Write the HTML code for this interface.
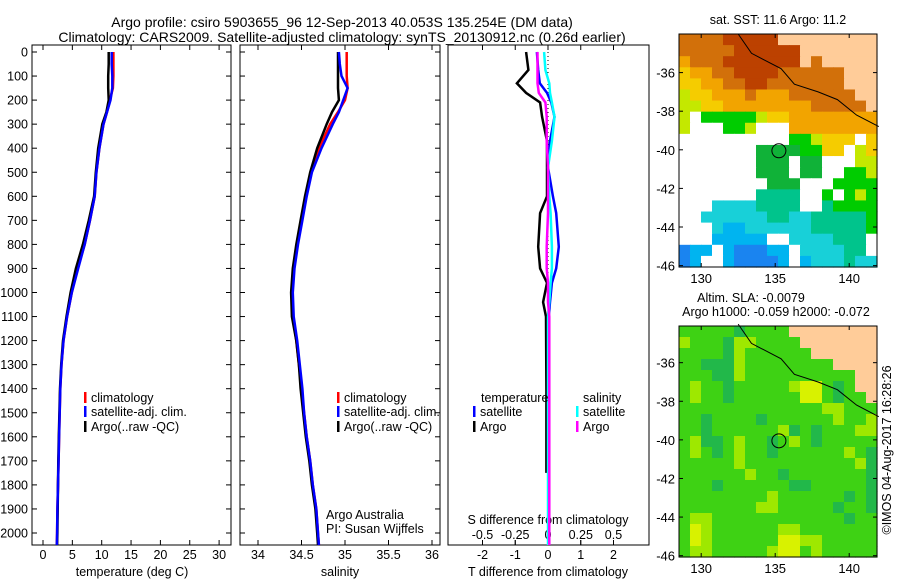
<!DOCTYPE html>
<html><head><meta charset="utf-8"><style>
html,body{margin:0;padding:0;background:#fff;}
svg{display:block;font-family:"Liberation Sans",sans-serif;}
text{font-size:12.5px;fill:#000;}
</style></head><body>
<svg id="fig" width="900" height="580" viewBox="0 0 900 580">
<g id="titles">
<text x="342" y="27" text-anchor="middle" style="font-size:14px">Argo profile: csiro 5903655_96 12-Sep-2013 40.053S 135.254E (DM data)</text>
<text x="342" y="42" text-anchor="middle" style="font-size:14px">Climatology: CARS2009. Satellite-adjusted climatology: synTS_20130912.nc (0.26d earlier)</text>
</g>
<g id="layer"></g>
</svg>
<script>
// ---- profile data ----
const depths = [0,50,100,150,200,250,300,400,500,600,700,800,900,1000,1100,1200,1300,1400,1500,1600,1700,1800,1900,2000,2050];
const tempArgo = [11.2,11.2,11.1,11.1,11.2,10.8,10.1,9.4,9.0,8.7,7.8,6.8,5.6,4.7,4.0,3.4,3.1,2.9,2.8,2.7,2.6,2.55,2.5,2.45,2.4];
const tempClim = [12.0,12.0,12.0,11.9,11.4,10.9,10.3,9.6,9.1,8.8,8.0,7.1,5.9,4.9,4.1,3.5,3.15,2.95,2.85,2.75,2.65,2.55,2.45,2.4,2.35];
const tempSat  = [11.7,11.7,11.8,11.8,11.5,10.9,10.3,9.6,9.1,8.8,8.0,7.1,6.0,4.9,4.1,3.5,3.15,2.95,2.85,2.75,2.65,2.55,2.45,2.4,2.35];
const salArgo = [34.92,34.92,34.92,34.92,34.93,34.85,34.79,34.68,34.60,34.54,34.49,34.44,34.40,34.38,34.39,34.44,34.47,34.49,34.52,34.55,34.59,34.62,34.66,34.68,34.69];
const salClim = [35.02,35.02,35.02,35.03,35.00,34.92,34.83,34.70,34.61,34.55,34.50,34.45,34.41,34.39,34.40,34.44,34.47,34.50,34.53,34.56,34.60,34.63,34.67,34.69,34.70];
const salSat  = [34.93,34.94,34.96,35.03,34.98,34.93,34.86,34.73,34.62,34.56,34.51,34.46,34.42,34.40,34.41,34.45,34.48,34.51,34.53,34.56,34.60,34.63,34.67,34.69,34.70];
// ---- difference data ----
const diffDepths = [0,75,130,170,210,270,370,480,600,670,810,900,960,1040,1100,1400,1750,2050];
const dTArgo = [-0.67,-0.6,-0.95,-0.67,-0.24,-0.18,-0.03,-0.03,-0.03,-0.24,-0.3,-0.24,-0.03,-0.15,-0.06,-0.05,-0.05,null];
const dTSat  = [-0.34,-0.3,-0.25,-0.03,0.1,0.2,0.06,0.0,0.15,0.25,0.33,0.25,0.12,0.06,0.02,0.02,0.02,0.02];
const dSSat  = [-0.03,-0.02,0.01,0.015,0.03,0.05,0.03,0.0,0.01,0.02,0.03,0.03,0.02,0.01,0.0,0.0,0.0,0.0];
const dSArgo = [-0.08,-0.08,-0.08,-0.07,-0.02,-0.01,-0.01,0.0,0.0,0.0,-0.01,-0.01,0.0,0.0,0.01,0.01,0.01,0.01];
// ---- axis ticks ----
const depthTicks = [0,100,200,300,400,500,600,700,800,900,1000,1100,1200,1300,1400,1500,1600,1700,1800,1900,2000];
const tempTicks = [0,5,10,15,20,25,30];
const salTicks = [34,34.5,35,35.5,36];
const tdTicks = [-2,-1,0,1,2];
const sdTicks = [-0.5,-0.25,0,0.25,0.5];
const latTicks = [-36,-38,-40,-42,-44,-46];
const lonTicks = [130,135,140];
// ---- map grids (coded colours, 18 cols x 21 rows) ----
const sstRows = [
"OOOORRRRRLLLLLLLLL","OOOOORRRRRRLLLLLLL","oOOORRRRRRRLOLLLLL","YooOORRRROOOOOOLLL","YYooOORROOOOOOOLLL",
"yYYoooOoooOOOOOOLL","yyYYooooooooOOOOOL","yWGGGGGyYYoooooooo","yWWWGGyWWWoooooooo","WWWWWWWWWWGGyYYYWY",
"WWWWWWWggggGGYYWyY","WWWWWWWgggWggWWWyy","WWWWWWWgggWggWWGGy","WWWWWWWWgggWWWGGGG","WWWWWWWTTTTWWGWGyG",
"WWWCCCCTTTTWWTGGGG","WWCCCCCCTTCCTTTTTG","WWWCBBCCCCCCTTTTTG","WWWBBBBBWWCCCCTTTW","bBBWBbbbBBWCCCCTTW","bBWWBbbbbBWBCCCTCC"];
const slaRows = [
"gggggdggggLLLLLLLL","ygggdyyggggLLLLLLL","ggggdyggggggLLLLLL","ggdddyggggggggLLLL","gggddyggggggggggLL",
"gyggdgggggyYYgdgLL","gyggdggggggYYgdggL","gggggggggggggyyggg","ggdggggdggggggyggy","ggdggggggydgdgggyy",
"gyddgyggdgygdggggg","gygdgyggdggggggygd","gggggyggggggggggyd","ggggggyggdgggggggd","gggdggggggddgggggd",
"ggggggggyggggggdgd","gggggggyygggggdggd","gyyggggggggggggdgg","gYyggggggyyggggggg","gYyggggggYYyyggggg","gyygggggyYYgyggggg"];
const sstColors = {R:"#bc4100",O:"#d2700a",o:"#f2a400",Y:"#f5cc00",y:"#c4e800",G:"#00cc00",g:"#10b238",T:"#00c48c",C:"#18d0d8",B:"#00b4f0",b:"#1a84f0",W:"#ffffff",L:"#ffcc99"};
const slaColors = {g:"#3ed214",d:"#22b84a",y:"#9ee800",Y:"#d8f200",L:"#ffcc99"};

const NS="http://www.w3.org/2000/svg";
const layer=document.getElementById('layer');
function mk(tag,attrs,parent){const e=document.createElementNS(NS,tag);for(const k in attrs)e.setAttribute(k,attrs[k]);(parent||layer).appendChild(e);return e;}
function txt(x,y,s,anchor,parent,size){const t=mk('text',{x:x,y:y,'text-anchor':anchor||'start'},parent);if(size)t.style.fontSize=size+'px';t.textContent=s;return t;}

const TOP=52, PB=545, DS=0.2405;
const yD = d => TOP + d*DS;
const xT = v => 43 + v*5.87;
const xS = v => 258 + (v-34)*87;
const xTd = v => 548 + v*32.75;
const xSd = v => 548 + v*131;

function panel(x0,x1,name){
  const g=mk('g',{});
  
  
  mk('rect',{x:x0,y:45,width:x1-x0,height:PB-45,fill:'#fff',stroke:'#000','stroke-width':1},g);
  return g;
}
function series(g,xs,ds,fn,color,w,name){
  let pts=[];
  for(let i=0;i<ds.length;i++){ if(xs[i]===null) continue; pts.push(fn(xs[i]).toFixed(1)+','+yD(ds[i]).toFixed(1)); }
  const p=mk('polyline',{points:pts.join(' '),fill:'none',stroke:color,'stroke-width':w},g);
  
  
}
// depth labels
const dl=mk('g',{});


depthTicks.forEach(d=>{txt(28,yD(d)+4.5,String(d),'end',dl);});

// panel 1 temperature
const p1=panel(32,231,'temperature-panel');
depthTicks.forEach(d=>{mk('line',{x1:32,y1:yD(d),x2:37,y2:yD(d),stroke:'#000'},p1);mk('line',{x1:226,y1:yD(d),x2:231,y2:yD(d),stroke:'#000'},p1);});
tempTicks.forEach(v=>{const x=xT(v);mk('line',{x1:x,y1:45,x2:x,y2:50,stroke:'#000'},p1);mk('line',{x1:x,y1:PB,x2:x,y2:PB-5,stroke:'#000'},p1);txt(x,559,String(v),'middle',p1);});
txt(132,576,'temperature (deg C)','middle',p1);
series(p1,tempClim,depths,xT,'#ff0000',2.5,'temp-climatology-line');
series(p1,tempArgo,depths,xT,'#000',2.5,'temp-argo-line');
series(p1,tempSat,depths,xT,'#0000ff',2.5,'temp-satellite-line');

// panel 2 salinity
const p2=panel(240,440,'salinity-panel');
depthTicks.forEach(d=>{mk('line',{x1:240,y1:yD(d),x2:245,y2:yD(d),stroke:'#000'},p2);mk('line',{x1:435,y1:yD(d),x2:440,y2:yD(d),stroke:'#000'},p2);});
salTicks.forEach(v=>{const x=xS(v);mk('line',{x1:x,y1:45,x2:x,y2:50,stroke:'#000'},p2);mk('line',{x1:x,y1:PB,x2:x,y2:PB-5,stroke:'#000'},p2);txt(x,559,String(v),'middle',p2);});
txt(340,576,'salinity','middle',p2);
series(p2,salClim,depths,xS,'#ff0000',2.5,'sal-climatology-line');
series(p2,salArgo,depths,xS,'#000',2.5,'sal-argo-line');
series(p2,salSat,depths,xS,'#0000ff',2.5,'sal-satellite-line');

// legends
function legendEntry(g,x,y,color,label,name){
  const e=mk('g',{},g);
  
  
  mk('rect',{x:x,y:y-10,width:2.5,height:11,fill:color},e);
  txt(x+7,y,label,'start',e);
}
[[p1,84,'temp'],[p2,337,'sal']].forEach(([g,x,n])=>{
  legendEntry(g,x,402,'#ff0000','climatology',n+'-legend-climatology');
  legendEntry(g,x,416,'#0000ff','satellite-adj. clim.',n+'-legend-satellite');
  legendEntry(g,x,431,'#000','Argo(..raw -QC)',n+'-legend-argo');
});
const cred=mk('g',{},p2);


txt(326,519,'Argo Australia','start',cred);
txt(326,533,'PI: Susan Wijffels','start',cred);

// panel 3 differences
const p3=panel(448,649,'difference-panel');
for(let y=TOP;y<PB;y+=4){mk('rect',{x:547.5,y:y,width:1,height:1,fill:'#000'},p3);}
tdTicks.forEach(v=>{const x=xTd(v);mk('line',{x1:x,y1:PB,x2:x,y2:PB-5,stroke:'#000'},p3);txt(x,559,String(v),'middle',p3);});
sdTicks.forEach(v=>{const x=xSd(v);mk('line',{x1:x,y1:45,x2:x,y2:50,stroke:'#000'},p3);mk('line',{x1:x,y1:PB,x2:x,y2:PB-5,stroke:'#000'},p3);txt(x,539,String(v),'middle',p3);});
txt(548,524,'S difference from climatology','middle',p3);
txt(548,576,'T difference from climatology','middle',p3);
series(p3,dTArgo,diffDepths,xTd,'#000',2.5,'tdiff-argo-line');
series(p3,dTSat,diffDepths,xTd,'#0000ff',2.5,'tdiff-satellite-line');
series(p3,dSSat,diffDepths,xSd,'#00ffff',2.5,'sdiff-satellite-line');
series(p3,dSArgo,diffDepths,xSd,'#ff00ff',2.5,'sdiff-argo-line');
txt(481,402,'temperature','start',p3);
txt(583,402,'salinity','start',p3);
legendEntry(p3,473,416,'#0000ff','satellite','tdiff-legend-satellite');
legendEntry(p3,473,431,'#000','Argo','tdiff-legend-argo');
legendEntry(p3,576,416,'#00ffff','satellite','sdiff-legend-satellite');
legendEntry(p3,576,431,'#ff00ff','Argo','sdiff-legend-argo');

// maps
function drawMap(rows,colors,x0,y0,x1,y1,name,lat0){
  const g=mk('g',{});
  
  
  const cw=(x1-x0)/18, ch=(y1-y0)/21;
  rows.forEach((r,ri)=>{for(let ci=0;ci<r.length;ci++){
    mk('rect',{x:(x0+ci*cw).toFixed(2),y:(y0+ri*ch).toFixed(2),width:(cw+0.6).toFixed(2),height:(ch+0.6).toFixed(2),fill:colors[r[ci]]},g);}});
  const lonX=l=>x0+(l-128.5)*14.8, latY=l=>y0+(-lat0-(-l))*0+(lat0-l)*19.3;
  // bathymetry / coast line
  const cl=[[132.5,-34],[133.4,-35],[135.4,-35.8],[136.3,-36.6],[137.9,-37.0],[139.2,-37.4],[140.5,-38.2],[142,-38.8]];
  mk('polyline',{points:cl.map(p=>lonX(p[0]).toFixed(1)+','+latY(p[1]).toFixed(1)).join(' '),fill:'none',stroke:'#000','stroke-width':1},g);
  // argo position
  const c=mk('circle',{cx:lonX(135.25),cy:latY(-40.05),r:7,fill:'none',stroke:'#000','stroke-width':1},g);
  
  
  mk('rect',{x:x0,y:y0,width:x1-x0,height:y1-y0,fill:'none',stroke:'#000','stroke-width':1},g);
  latTicks.forEach(l=>{const y=latY(l);mk('line',{x1:x0,y1:y,x2:x0+4,y2:y,stroke:'#000'},g);mk('line',{x1:x1-4,y1:y,x2:x1,y2:y,stroke:'#000'},g);txt(x0-4,y+5,String(l),'end',g,13);});
  lonTicks.forEach(l=>{const x=lonX(l);mk('line',{x1:x,y1:y0,x2:x,y2:y0+4,stroke:'#000'},g);mk('line',{x1:x,y1:y1-4,x2:x,y2:y1,stroke:'#000'},g);txt(x,y1+16,String(l),'middle',g,13);});
  return g;
}
const m1=drawMap(sstRows,sstColors,679,34,877,267,'sst-map',-34.0);
txt(778,24,'sat. SST: 11.6 Argo: 11.2','middle',m1);
const m2=drawMap(slaRows,slaColors,679,326,877,557,'sla-map',-34.1);
txt(751,302,'Altim. SLA: -0.0079','middle',m2);
txt(776,316,'Argo h1000: -0.059 h2000: -0.072','middle',m2);
const ts=txt(0,0,'©IMOS 04-Aug-2017 16:28:26','middle',null,12.5);
ts.setAttribute('transform','translate(891,450) rotate(-90)');


</script>
</body></html>
